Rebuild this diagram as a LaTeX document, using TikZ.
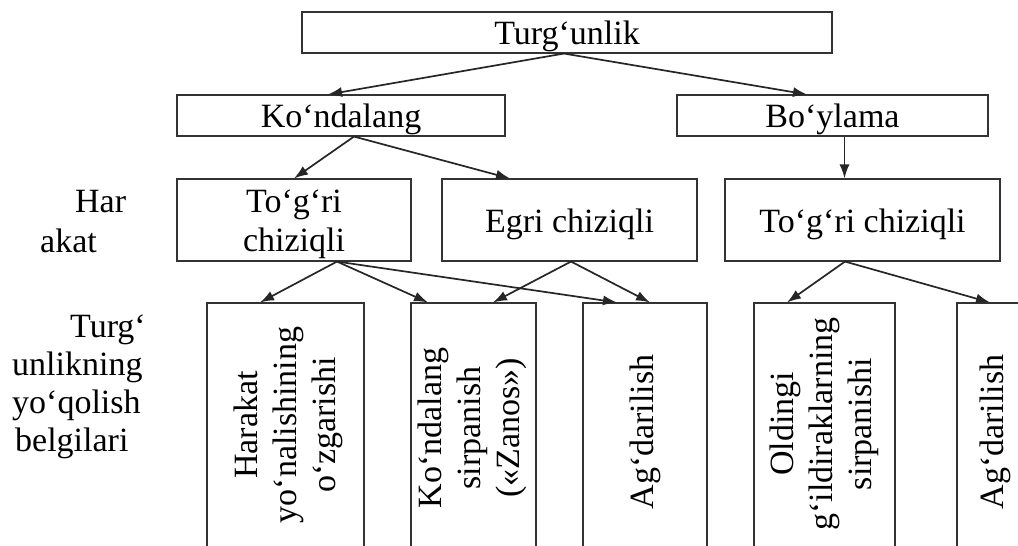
\documentclass[tikz,border=0pt]{standalone}
\usepackage{fontspec}
\setmainfont{Liberation Serif}
\usetikzlibrary{arrows.meta}
\begin{document}
\begin{tikzpicture}[x=1pt,y=-1pt,
  txt/.style={inner sep=0pt, align=center, font=\fontsize{34}{39}\selectfont},
  box/.style={txt, draw=black!80, line width=1.1pt},
  onebox/.style={box, text height=29pt, text depth=5pt},
  vtxt/.style={txt, rotate=90},
  arr/.style={-{Latex[length=14pt,width=10pt]}, line width=1.7pt, draw=black!85}]
\useasboundingbox (0,0) rectangle (1018,546);
\clip (0,0) rectangle (1018,546);
\fill[white] (0,0) rectangle (1018,546);

% level 1 and 2
\node[onebox, minimum width=530pt, minimum height=41pt] (top) at (567,32.5) {Turg‘unlik};
\node[onebox, minimum width=328pt, minimum height=41pt] (kon) at (341,115.5) {Ko‘ndalang};
\node[onebox, minimum width=311pt, minimum height=41pt] (boy) at (832.5,115.5) {Bo‘ylama};

% level 3
\node[box, minimum width=234pt, minimum height=82pt] (tl) at (294,220) {};
\node[txt] (tlt) at (294,224.5) {To‘g‘ri\\chiziqli};
\node[onebox, minimum width=255pt, minimum height=82pt] (eg) at (569.5,220) {Egri chiziqli};
\node[onebox, minimum width=275pt, minimum height=82pt] (tr) at (862.5,220) {To‘g‘ri chiziqli};

% level 4 boxes (cut by the lower edge)
\node[box, minimum width=157pt, minimum height=270pt] (h) at (285.5,438) {};
\node[box, minimum width=125pt, minimum height=270pt] (ks) at (473.5,438) {};
\node[box, minimum width=124pt, minimum height=270pt] (ag1) at (645,438) {};
\node[box, minimum width=141pt, minimum height=270pt] (ol) at (824.5,438) {};
\node[box, minimum width=78pt, minimum height=270pt] (ag2) at (996,438) {};

% rotated texts
\node[vtxt] (ht) at (288,425) {Harakat\\yo‘nalishining\\o‘zgarishi};
\node[vtxt] (kst) at (472,428) {Ko‘ndalang\\sirpanish\\(«Zanos»)};
\node[vtxt] (ag1t) at (645,432) {Ag‘darilish};
\node[vtxt] (olt) at (824,424) {Oldingi\\g‘ildiraklarning\\sirpanishi};
\node[vtxt] (ag2t) at (995,432) {Ag‘darilish};

% left labels
\node[txt, anchor=base west] (har) at (75,212) {Har};
\node[txt, anchor=base west] (akat) at (40,252) {akat};
\node[txt, anchor=base east] (l1) at (146,337) {Turg‘};
\node[txt, anchor=base west] (l2) at (12,375) {unlikning};
\node[txt, anchor=base west] (l3) at (12,413) {yo‘qolish};
\node[txt, anchor=base west] (l4) at (15,451) {belgilari};

% connectors
\draw[arr] ([xshift=-3pt]top.south) -- ([xshift=-13pt]kon.north);
\draw[arr] ([xshift=-3pt]top.south) -- ([xshift=-25.5pt]boy.north);
\draw[arr] ([xshift=13pt]kon.south) -- (tl.north);
\draw[arr] ([xshift=13pt]kon.south) -- ([xshift=-59.5pt]eg.north);
\draw[arr] ([xshift=12pt]boy.south) -- ([xshift=-18pt]tr.north);
\draw[arr] ([xshift=43pt]tl.south) -- ([xshift=-25.5pt]h.north);
\draw[arr] ([xshift=43pt]tl.south) -- ([xshift=-45.5pt]ks.north);
\draw[arr] ([xshift=43pt]tl.south) -- ([xshift=-28pt]ag1.north);
\draw[arr] ([xshift=1.5pt]eg.south) -- ([xshift=19.5pt]ks.north);
\draw[arr] ([xshift=1.5pt]eg.south) -- ([xshift=5pt]ag1.north);
\draw[arr] ([xshift=-17.5pt]tr.south) -- ([xshift=-37.5pt]ol.north);
\draw[arr] ([xshift=-17.5pt]tr.south) -- ([xshift=-6pt]ag2.north);
\end{tikzpicture}
\end{document}
